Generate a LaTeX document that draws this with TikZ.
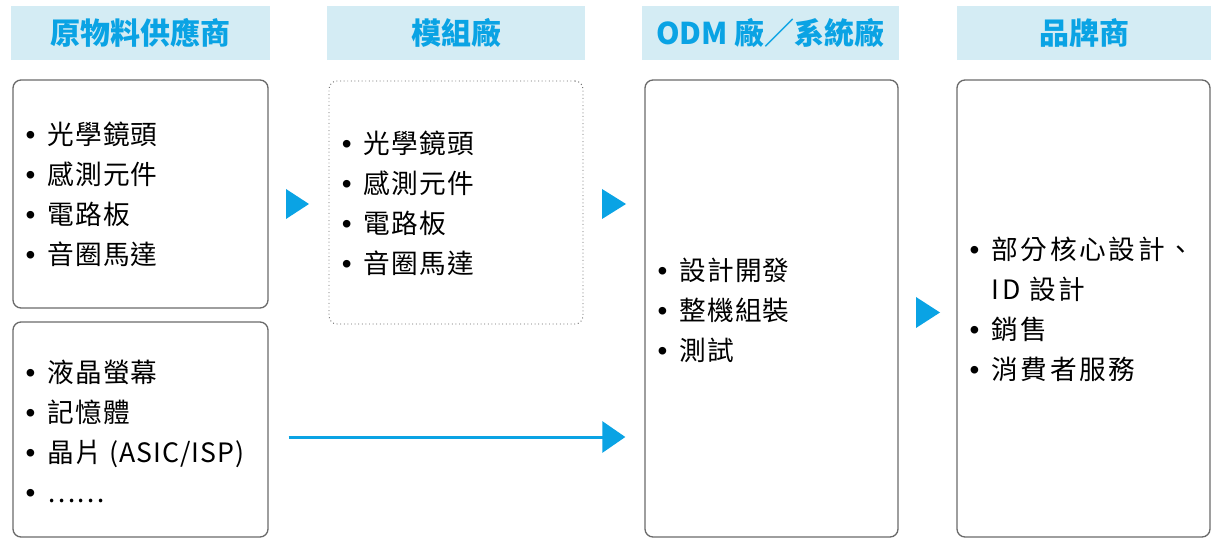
\documentclass[tikz,border=0pt]{standalone}
\usepackage{fontspec}
\newfontfamily\cjk{Noto Sans CJK TC}
\newfontfamily\bul{Liberation Sans}
\usetikzlibrary{arrows.meta,calc}
\definecolor{hdrfill}{HTML}{D4ECF4}
\definecolor{hdrtext}{HTML}{0AA3E4}
\definecolor{flowblue}{HTML}{0AA3E4}
\definecolor{boxline}{HTML}{6A6A6A}
\def\upx{0.75pt}
\newcommand\itm[1]{\makebox[16.5pt][l]{\bul\fontsize{21}{21}\selectfont •}#1}
\newcommand\noitm[1]{\makebox[16.5pt][l]{}#1}
\tikzset{
  hdr/.style={fill=hdrfill, minimum height=54*\upx, inner sep=0pt, text=hdrtext,
    font=\cjk\bfseries\fontsize{22.5}{22.5}\selectfont},
  panel/.style={draw=boxline, line width=1pt, rounded corners=6pt, fill=white},
  dotpanel/.style={draw=boxline, line width=0.7pt, dotted, rounded corners=6pt},
  items/.style={anchor=west, inner sep=0pt, align=left,
    font=\cjk\addfontfeature{LetterSpace=4}\fontsize{20}{30}\selectfont},
  wideitems/.style={items, font=\cjk\addfontfeature{LetterSpace=10}\fontsize{20}{30}\selectfont},
  marker/.style={fill=flowblue},
  flow/.style={draw=flowblue, line width=3*\upx, -{Triangle[length=23*\upx, width=31*\upx]}}
}
\begin{document}
\begin{tikzpicture}[x=0.75pt,y=-0.75pt]
\useasboundingbox (0,0) rectangle (1211,538);
% headers
\node[hdr, minimum width=259*\upx] (h1) at (140.5,33) {原物料供應商};
\node[hdr, minimum width=258*\upx] (h2) at (456,33) {模組廠};
\node[hdr, minimum width=257*\upx] (h3) at (770.5,33) {ODM 廠／系統廠};
\node[hdr, minimum width=254*\upx] (h4) at (1084,33) {品牌商};
% boxes
\node[panel, minimum width=255*\upx, minimum height=228*\upx] (b1) at (140.5,194) {};
\node[panel, minimum width=255*\upx, minimum height=215*\upx] (b2) at (140.5,429.5) {};
\node[dotpanel, minimum width=254*\upx, minimum height=243*\upx] (b3) at (456,202.5) {};
\node[panel, minimum width=253*\upx, minimum height=457*\upx] (b4) at (771.5,308.5) {};
\node[panel, minimum width=253*\upx, minimum height=457*\upx] (b5) at (1083.5,308.5) {};
% texts
\node[items] (t1) at ($(b1.west)+(13,0)$) {\itm{光學鏡頭}\\\itm{感測元件}\\\itm{電路板}\\\itm{音圈馬達}};
\node[items] (t2) at ($(b2.west)+(13,2)$) {\itm{液晶螢幕}\\\itm{記憶體}\\\itm{晶片 (ASIC/ISP)}\\\itm{……}};
\node[items] (t3) at ($(b3.west)+(13,1)$) {\itm{光學鏡頭}\\\itm{感測元件}\\\itm{電路板}\\\itm{音圈馬達}};
\node[items] (t4) at ($(b4.west)+(13,2)$) {\itm{設計開發}\\\itm{整機組裝}\\\itm{測試}};
\node[wideitems] (t5) at ($(b5.west)+(13,1)$) {\itm{部分核心設計、}\\\noitm{ID 設計}\\\itm{銷售}\\\itm{消費者服務}};
% markers
\fill[marker] (286,189) -- (309,204) -- (286,219) -- cycle;
\fill[marker] (602,189) -- (626,204) -- (602,219) -- cycle;
\fill[marker] (916,297) -- (940,312.5) -- (916,328) -- cycle;
% long arrow
\draw[flow] ($(b2.east)+(20,7.5)$) -- ($(b4.west |- b2.east)+(-19,7.5)$);
\end{tikzpicture}
\end{document}
